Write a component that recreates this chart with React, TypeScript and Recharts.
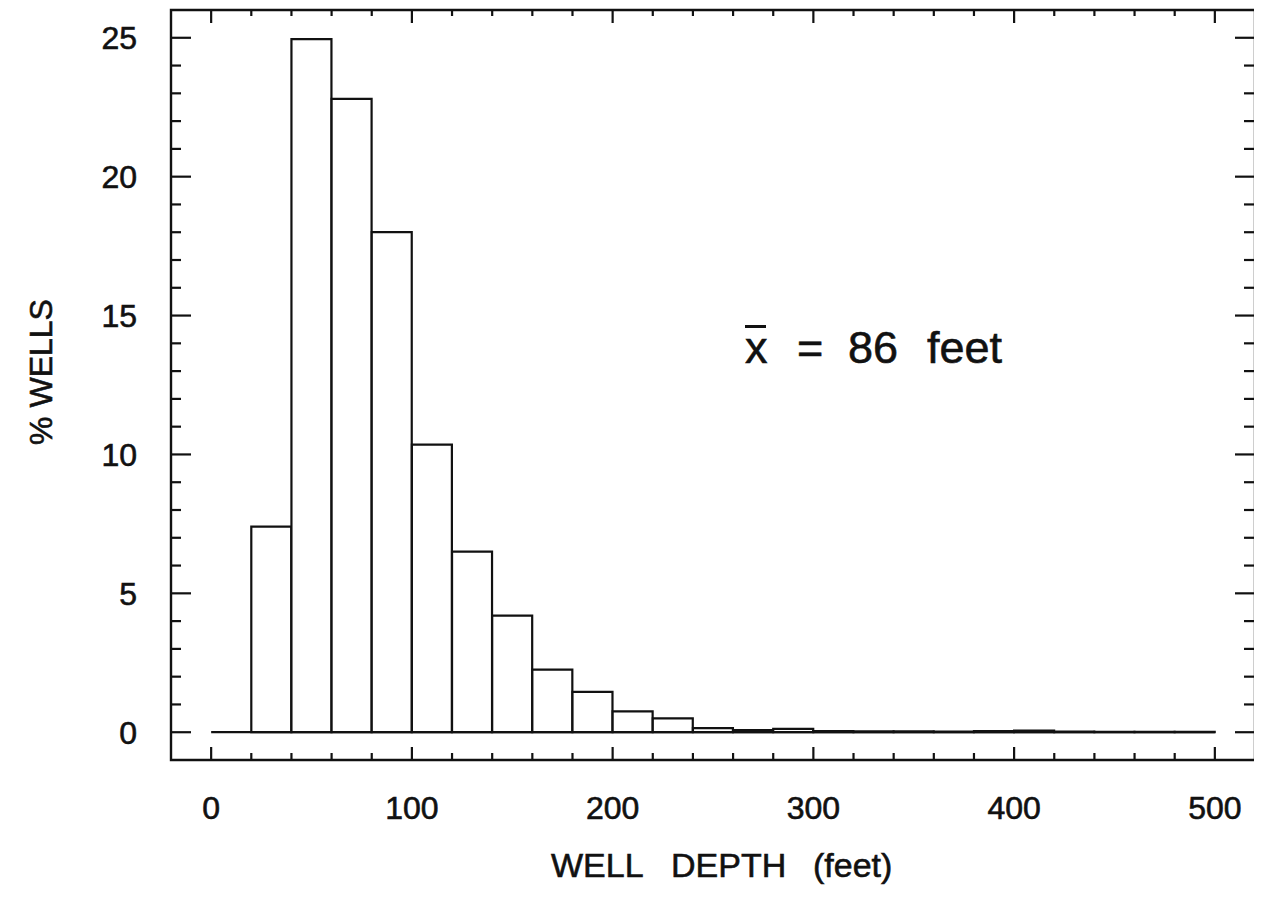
import React from "react";
import { ComposedChart, Bar, XAxis, YAxis, ReferenceLine, ReferenceArea } from "recharts";

// Histogram bins (20 ft wide), start of each bin in feet
const binStart = [20, 40, 60, 80, 100, 120, 140, 160, 180, 200, 220, 240, 260, 280, 300, 320, 340, 360, 380, 400, 420, 440, 460, 480];
// Percent of wells in each bin
const pctWells = [7.4, 24.95, 22.8, 18.0, 10.35, 6.5, 4.2, 2.25, 1.45, 0.75, 0.5, 0.15, 0.08, 0.12, 0.04, 0.03, 0.03, 0.02, 0.04, 0.06, 0.02, 0.01, 0.01, 0.01];
const binWidth = 20;

const xDomain = [-20, 520];
const yDomain = [-1, 26];
const xTicks = [0, 20, 40, 60, 80, 100, 120, 140, 160, 180, 200, 220, 240, 260, 280, 300, 320, 340, 360, 380, 400, 420, 440, 460, 480, 500];
const xMajor = [0, 100, 200, 300, 400, 500];
const yTicks = [0, 1, 2, 3, 4, 5, 6, 7, 8, 9, 10, 11, 12, 13, 14, 15, 16, 17, 18, 19, 20, 21, 22, 23, 24, 25];
const yMajor = [0, 5, 10, 15, 20, 25];

const data = binStart.map((s, i) => ({ mid: s + binWidth / 2, pct: pctWells[i] }));

const INK = "#111";
const FONT = "'Liberation Sans', Arial, Helvetica, sans-serif";
const TXT = { fontFamily: FONT, fill: INK, stroke: INK, strokeWidth: 0.6 };

const BottomTick = (props: any) => {
  const { x, y, payload } = props;
  const major = xMajor.includes(payload.value);
  return (
    <g>
      <line x1={x} x2={x} y1={y} y2={y - (major ? 13 : 7)} stroke={INK} strokeWidth={2.2} />
      {major && (
        <text x={x} y={y + 59} textAnchor="middle" fontSize={32} {...TXT}>
          {payload.value}
        </text>
      )}
    </g>
  );
};

const TopTick = (props: any) => {
  const { x, y, payload } = props;
  const major = xMajor.includes(payload.value);
  return <line x1={x} x2={x} y1={y} y2={y + (major ? 13 : 6)} stroke={INK} strokeWidth={2.2} />;
};

const LeftTick = (props: any) => {
  const { x, y, payload } = props;
  const major = yMajor.includes(payload.value);
  return (
    <g>
      <line x1={x} x2={x + (major ? 20 : 10)} y1={y} y2={y} stroke={INK} strokeWidth={2.2} />
      {major && (
        <text x={x - 34} y={y + 11.5} textAnchor="end" fontSize={32} {...TXT}>
          {payload.value}
        </text>
      )}
    </g>
  );
};

const RightTick = (props: any) => {
  const { x, y, payload } = props;
  const major = yMajor.includes(payload.value);
  return <line x1={x} x2={x - (major ? 20 : 11)} y1={y} y2={y} stroke={INK} strokeWidth={2.2} />;
};

export default function App() {
  return (
    <div style={{ width: 1254, height: 904, background: "#fff" }}>
      <ComposedChart
        width={1254}
        height={904}
        data={data}
        margin={{ top: 0, right: 5, bottom: 0, left: 0 }}
        barCategoryGap={0}
        barGap={0}
      >
        <XAxis
          xAxisId="b"
          dataKey="mid"
          type="number"
          domain={xDomain}
          ticks={xTicks}
          interval={0}
          allowDataOverflow
          height={152}
          tickLine={false}
          tickSize={0}
          tickMargin={0}
          tick={(p: any) => <BottomTick {...p} />}
          axisLine={false}
        />
        <XAxis
          xAxisId="t"
          dataKey="mid"
          orientation="top"
          type="number"
          domain={xDomain}
          ticks={xTicks}
          interval={0}
          allowDataOverflow
          height={2}
          tickLine={false}
          tickSize={0}
          tickMargin={0}
          tick={(p: any) => <TopTick {...p} />}
          axisLine={false}
        />
        <YAxis
          yAxisId="l"
          type="number"
          domain={yDomain}
          ticks={yTicks}
          interval={0}
          allowDataOverflow
          width={163}
          tickLine={false}
          tickSize={0}
          tickMargin={0}
          tick={(p: any) => <LeftTick {...p} />}
          axisLine={false}
        />
        <YAxis
          yAxisId="r"
          orientation="right"
          type="number"
          domain={yDomain}
          ticks={yTicks}
          interval={0}
          allowDataOverflow
          width={2}
          tickLine={false}
          tickSize={0}
          tickMargin={0}
          tick={(p: any) => <RightTick {...p} />}
          axisLine={false}
        />
        <Bar
          xAxisId="b"
          yAxisId="l"
          dataKey="pct"
          fill="#fff"
          stroke={INK}
          strokeWidth={2.2}
          isAnimationActive={false}
        />
        <ReferenceLine
          xAxisId="b"
          yAxisId="l"
          segment={[{ x: 0, y: 0 }, { x: 500, y: 0 }]}
          stroke={INK}
          strokeWidth={2.2}
        />
        <ReferenceArea
          xAxisId="b"
          yAxisId="l"
          x1={xDomain[0]}
          x2={xDomain[1]}
          y1={yDomain[0]}
          y2={yDomain[1]}
          fill="none"
          fillOpacity={0}
          stroke={INK}
          strokeWidth={2.4}
          strokeOpacity={1}
          ifOverflow="visible"
        />
        <g {...TXT}>
          <text x={44} y={364} transform="rotate(-90, 44, 364)" textAnchor="middle" fontSize={32}>
            % WELLS
          </text>
          <text x={543} y={869} fontSize={34}>WELL</text>
          <text x={663} y={869} fontSize={34}>DEPTH</text>
          <text x={805} y={869} fontSize={34}>(feet)</text>
          <rect x={737} y={317} width={21} height={3} fill={INK} stroke="none" />
          <text x={737} y={355} fontSize={45}>x</text>
          <text x={789} y={355} fontSize={45}>=</text>
          <text x={840} y={355} fontSize={45}>86</text>
          <text x={919} y={355} fontSize={45}>feet</text>
        </g>
      </ComposedChart>
    </div>
  );
}
